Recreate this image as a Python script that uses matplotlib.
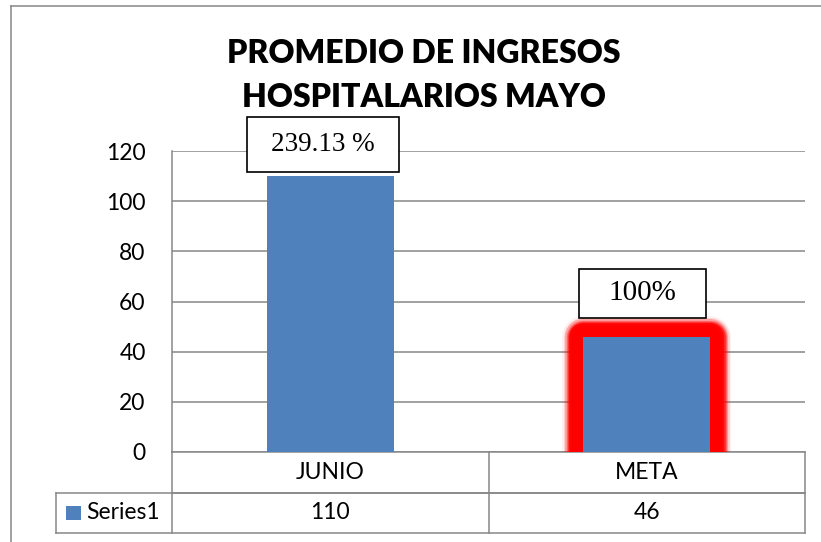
import matplotlib.pyplot as plt
import matplotlib.patheffects as pe
from matplotlib.patches import Rectangle
from matplotlib.lines import Line2D
from matplotlib.transforms import blended_transform_factory

# data
categories = ['JUNIO', 'META']
values = [110, 46]
series_name = 'Series1'
pct_labels = ['239.13 %', '100%']
y_ticks = [0, 20, 40, 60, 80, 100, 120]
title_lines = ['PROMEDIO DE INGRESOS', 'HOSPITALARIOS MAYO']

# style
BLUE = '#4F81BD'
GREY = '#878787'
W, H = 821, 542
FS = 16.5
label_style = [
    dict(dx=-0.023, dy=12.6, w=0.48, h=21.9, size=19.5),
    dict(dx=-0.013, dy=17.2, w=0.40, h=19.5, size=21),
]

plt.rcParams['font.family'] = ['Lato', 'DejaVu Sans']

fig = plt.figure(figsize=(W / 100, H / 100), dpi=100)
ax = fig.add_axes([172 / W, 1 - 452 / H, (805 - 172) / W, (452 - 151) / H])

x = list(range(len(categories)))
bars = ax.bar(x, values, width=0.40, color=BLUE, zorder=3)

# soft red glow round the META bar
glow = []
for lw, a in [(30, 0.06), (28, 0.12), (26, 0.22), (24, 0.38), (22, 0.6), (20, 0.85), (17, 1.0)]:
    glow.append(pe.Stroke(linewidth=lw, foreground='red', alpha=a, joinstyle='round'))
glow.append(pe.Normal())
bars[1].set_path_effects(glow)

ax.set_xlim(-0.5, len(categories) - 0.5)
ax.set_ylim(0, 120)
ax.set_yticks(y_ticks)
ax.set_xticks([])
ax.yaxis.grid(True, color=GREY, linewidth=1.1, zorder=0)
ax.set_axisbelow(True)
for s in ['top', 'right']:
    ax.spines[s].set_visible(False)
ax.spines['left'].set_color(GREY)
ax.spines['left'].set_linewidth(1.1)
ax.spines['bottom'].set_color(GREY)
ax.spines['bottom'].set_linewidth(1.1)
ax.tick_params(axis='y', length=0, pad=19, labelsize=FS, labelcolor='black')

# percentage label boxes
for i, (lab, st) in enumerate(zip(pct_labels, label_style)):
    cx = i + st['dx']
    cy = values[i] + st['dy']
    ax.add_patch(Rectangle((cx - st['w'] / 2, cy - st['h'] / 2), st['w'], st['h'],
                           facecolor='white', edgecolor='black', linewidth=1.2,
                           zorder=5, clip_on=False))
    ax.text(cx, cy, lab, ha='center', va='center', fontsize=st['size'],
            family='Liberation Serif', zorder=6, clip_on=False)

# data table under the axes
trans = blended_transform_factory(ax.transData, ax.transAxes)
row_h = 40.5 / 301
px = (len(categories)) / (805 - 172)
x_lab = -0.5 - 116 * px
x_right = len(categories) - 0.5
lines = [
    ([-0.5, x_right], [-row_h, -row_h]),
    ([x_lab, x_right], [-row_h, -row_h]),
    ([x_lab, x_right], [-2 * row_h, -2 * row_h]),
    ([x_lab, x_lab], [-row_h, -2 * row_h]),
]
for k in range(len(categories) + 1):
    xe = k - 0.5
    lines.append(([xe, xe], [0, -2 * row_h]))
for xs, ys in lines:
    ax.add_line(Line2D(xs, ys, transform=trans, color=GREY, linewidth=1.1,
                       clip_on=False))

for i, (c, v) in enumerate(zip(categories, values)):
    ax.text(i, -0.5 * row_h, c, transform=trans, ha='center', va='center',
            fontsize=FS)
    ax.text(i, -1.5 * row_h, str(v), transform=trans, ha='center', va='center',
            fontsize=FS)

ax.add_patch(Rectangle((-0.5 - 106 * px, -1.5 * row_h - 7 / 301), 15 * px, 14 / 301,
                       transform=trans, facecolor=BLUE, edgecolor='none',
                       clip_on=False))
ax.text(-0.5 - 86 * px, -1.5 * row_h, series_name, transform=trans,
        ha='left', va='center', fontsize=FS)

# title
fig.text(424 / W, 1 - 63 / H, title_lines[0], ha='center', va='baseline',
         fontsize=23, fontweight='heavy')
fig.text(424 / W, 1 - 107 / H, title_lines[1], ha='center', va='baseline',
         fontsize=23, fontweight='heavy')

# chart border
fig.add_artist(Line2D([11 / W, 1], [1 - 6 / H, 1 - 6 / H], color=GREY,
                      linewidth=1.1, transform=fig.transFigure))
fig.add_artist(Line2D([11 / W, 11 / W], [1 - 6 / H, 0], color=GREY,
                      linewidth=1.1, transform=fig.transFigure))

fig.savefig('out.png', dpi=100, facecolor='white')
